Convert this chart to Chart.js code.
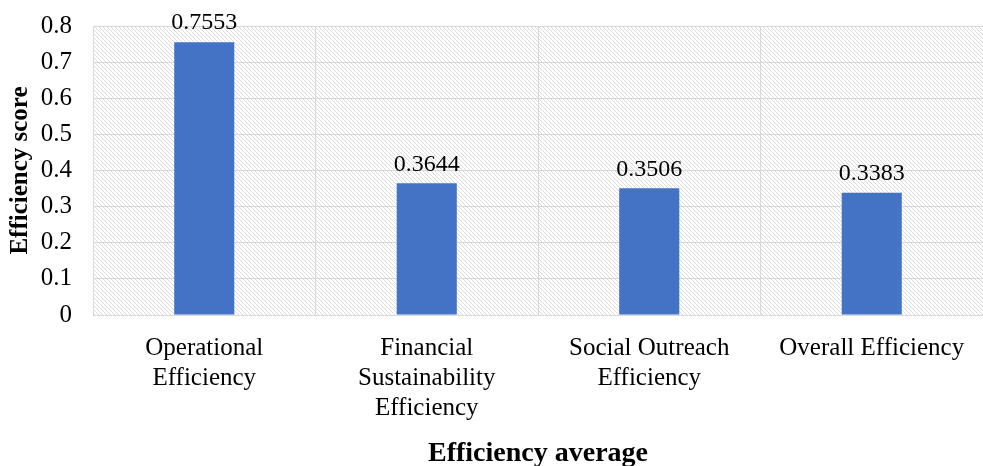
<!DOCTYPE html>
<html>
<head>
<meta charset="utf-8">
<script src="https://cdn.jsdelivr.net/npm/chart.js@4/dist/chart.umd.min.js"></script>
<style>
  html, body { margin: 0; padding: 0; background: #fff; }
  #wrap { width: 983px; height: 466px; }
</style>
</head>
<body>
<div id="wrap"><canvas id="chart-efficiency"></canvas></div>
<script>
const categories = [
  ["Operational", "Efficiency"],
  ["Financial", "Sustainability", "Efficiency"],
  ["Social Outreach", "Efficiency"],
  ["Overall Efficiency"]
];
const scores = [0.7553, 0.3644, 0.3506, 0.3383];
const yTicks = [0, 0.1, 0.2, 0.3, 0.4, 0.5, 0.6, 0.7, 0.8];

const serif = "'Liberation Serif', 'Times New Roman', serif";

// diagonal hatch for the plot background
function makeHatch() {
  const c = document.createElement("canvas");
  c.width = 4; c.height = 4;
  const g = c.getContext("2d");
  g.fillStyle = "#ffffff";
  g.fillRect(0, 0, 4, 4);
  g.strokeStyle = "#dcdcdc";
  g.lineWidth = 1;
  g.beginPath();
  g.moveTo(-1, -1); g.lineTo(5, 5);
  g.moveTo(-1, 3); g.lineTo(1, 5);
  g.moveTo(3, -1); g.lineTo(5, 1);
  g.stroke();
  return g.createPattern(c, "repeat");
}

const hatchBg = {
  id: "hatchBg",
  beforeDraw(chart) {
    const a = chart.chartArea, ctx = chart.ctx;
    ctx.save();
    ctx.fillStyle = makeHatch();
    ctx.fillRect(a.left, a.top, a.right - a.left, a.bottom - a.top);
    ctx.restore();
  }
};

const valueLabels = {
  id: "valueLabels",
  afterDatasetsDraw(chart) {
    const ctx = chart.ctx;
    const meta = chart.getDatasetMeta(0);
    ctx.save();
    ctx.font = "24px " + serif;
    ctx.fillStyle = "#000";
    ctx.textAlign = "center";
    ctx.textBaseline = "bottom";
    meta.data.forEach((bar, i) => {
      ctx.fillText(scores[i].toFixed(4), bar.x, bar.y - 7);
    });
    ctx.restore();
  }
};

new Chart(document.getElementById("chart-efficiency"), {
  type: "bar",
  data: {
    labels: categories,
    datasets: [
      {
        label: "Efficiency score",
        backgroundColor: "#4472C4",
        data: scores,
        categoryPercentage: 1,
        barPercentage: 0.27,
      },
    ],
  },
  options: {
    responsive: true,
    maintainAspectRatio: false,
    animation: false,
    layout: { padding: { top: 26, right: 0, left: 6, bottom: 0 } },
    plugins: {
      legend: { display: false },
      tooltip: { enabled: false },
    },
    scales: {
      x: {
        grid: { color: "#d9d9d9", offset: true, drawTicks: false },
        border: { color: "#d9d9d9" },
        ticks: {
          color: "#000",
          font: { family: serif, size: 25 },
          padding: 18,
          maxRotation: 0,
          autoSkip: false,
        },
        title: {
          display: true,
          text: "Efficiency average",
          color: "#000",
          font: { family: serif, size: 28, weight: "bold", lineHeight: 0.9 },
          padding: { top: 0, bottom: 0 },
        },
        afterFit(s) { s.height = 151; s.paddingRight = 0; },
      },
      y: {
        min: 0,
        max: 0.8,
        afterBuildTicks(s) { s.ticks = yTicks.map(v => ({ value: v })); },
        grid: { color: "#d9d9d9", drawTicks: false },
        border: { display: false },
        ticks: {
          color: "#000",
          font: { family: serif, size: 25 },
          padding: 21,
          callback: v => String(v),
        },
        title: {
          display: true,
          text: "Efficiency score",
          color: "#000",
          font: { family: serif, size: 25, weight: "bold" },
          padding: { top: 0, bottom: 0 },
        },
        afterFit(s) { s.width = 87; s.paddingTop = 0; s.paddingBottom = 0; },
      },
    },
  },
  plugins: [hatchBg, valueLabels],
});
</script>
</body>
</html>
